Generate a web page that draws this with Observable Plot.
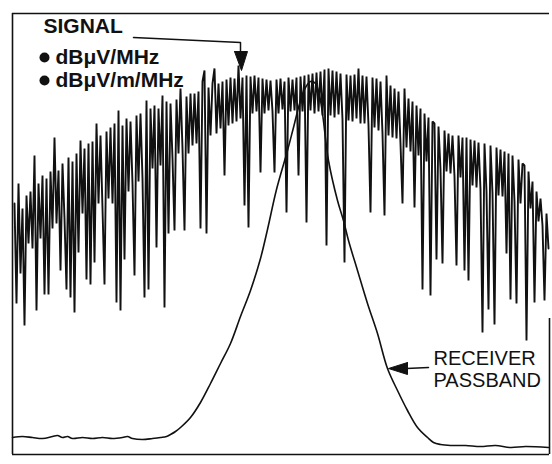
<!DOCTYPE html>
<html>
<head>
<meta charset="utf-8">
<script src="https://cdn.jsdelivr.net/npm/d3@7"></script>
<script src="https://cdn.jsdelivr.net/npm/@observablehq/plot@0.6"></script>
<style>
  html, body { margin: 0; padding: 0; background: #fff; }
  #chart svg { display: block; }
</style>
</head>
<body>
<div id="chart"></div>
<script>
// ---- Signal spectrum (noisy trace), level in arbitrary units above floor ----
const sigStart = 2;   // first frequency sample
const sigStep = 2;    // frequency spacing of samples
const sigLevel = [
  250,150,270,180,245, 128,258,210,262,205, 298,143,270,215,278, 159,275,159,282,225,
  316,230,283,183,290, 235,164,296,156,292, 141,300,201,313,240, 305,174,310,169,312,
  191,330,250,318,245, 169,322,255,326,250, 330,151,343,143,328, 194,335,262,332,270,
  178,338,272,340,275, 156,353,164,345,285, 348,206,345,288,358, 146,352,220,350,295,
  223,354,300,365,305, 223,357,300,360,308, 360,310,362,225,372, 383,220,366,318,370,
  385,320,370,325,372, 278,374,328,376,330, 375,332,388,335,376, 248,378,226,377,340,
  378,342,376,281,375, 340,374,343,373,342, 281,374,340,375,344, 372,241,376,342,374,
  343,376,278,377,342, 378,231,379,343,380, 340,381,342,382,338, 384,208,385,338,383,
  336,382,339,380,334, 191,379,333,378,332, 379,335,385,330,378, 330,377,328,241,376,
  326,375,323,372,320, 238,378,318,368,316, 365,315,362,310,250, 365,306,355,302,352,
  246,348,298,345,164, 340,292,336,158,332, 330,194,327,284,190, 323,282,320,280,318,
  277,188,318,276,316, 183,316,173,314,268, 313,266,311,264,121, 310,262,144,308,260,
  129,306,258,304,257, 302,200,300,154,298, 252,150,294,250,290, 288,113,282,245,272,
  151,262,232,255,228, 153,240,205
];
const sigFreq = sigLevel.map((_, i) => sigStart + i * sigStep);

// ---- Receiver passband ----
const pbFreq = [0,10,20,30,40,45,50,55,60,70,80,90,100,110,115,120,130,140,148,154,158,163,168,178,188,198,208,218,228,238,248,255,264,275,281,288,293,298,303,307,310,316,325,331,336,345,355,365,375,385,395,405,415,421,428,438,453,468,483,498,513,536];
const pbLevel = [16,17,16,15,17,18,16,17,15,16,15,16,15,16,17,15,14,15,16,17,19,22,26,36,51,70,90,110,137,163,195,224,264,303,326,353,366,372,370,358,340,293,253,233,213,183,150,120,85,63,43,26,16,11,9,8,8,7,8,6,7,6];

// ---- Annotation texts ----
const signalLabel = "SIGNAL";
const unitLabels = ["dB\u03BCV/MHz", "dB\u03BCV/m/MHz"];
const passbandLabels = ["RECEIVER", "PASSBAND"];

// annotation anchors (data units)
const signalLabelPos = {f: 31, v: 427};
const unitPos = [{f: 43, v: 396}, {f: 43, v: 373}];
const bulletF = 32;
const signalArrowPath = [{f: 121, v: 416}, {f: 228, v: 411}, {f: 228, v: 400}];
const signalArrowHead = [{f: 222, v: 402}, {f: 235, v: 402}, {f: 229, v: 383}, {f: 222, v: 402}];
const passbandLabelPos = [{f: 421, v: 95}, {f: 421, v: 73}];
const passbandArrowPath = [{f: 416, v: 86}, {f: 394, v: 85}];
const passbandArrowHead = [{f: 395, v: 91}, {f: 395, v: 79}, {f: 376, v: 85}, {f: 395, v: 91}];

// frame levels
const frameBottom = -1, frameTop = 440, frameLeft = 0, frameRight = 537, rightEdgeTop = 135;

const signal = sigFreq.map((f, i) => ({f, v: sigLevel[i]}));
const passband = pbFreq.map((f, i) => ({f, v: pbLevel[i]}));
const font = "'Liberation Sans', Arial, Helvetica, sans-serif";

const chart = Plot.plot({
  width: 552,
  height: 464,
  margin: 0,
  style: {background: "#fff", fontFamily: font},
  x: {domain: [0, 537], range: [12, 549], axis: null},
  y: {domain: [0, 443], range: [453, 10], axis: null},
  marks: [
    // frame
    Plot.ruleY([frameBottom], {x1: frameLeft, x2: frameRight, stroke: "#111", strokeWidth: 1.6}),
    Plot.ruleY([frameTop], {x1: frameLeft, x2: frameRight, stroke: "#111", strokeWidth: 1.6}),
    Plot.ruleX([frameLeft], {y1: frameBottom, y2: frameTop, stroke: "#111", strokeWidth: 1.6}),
    Plot.ruleX([frameRight], {y1: frameBottom, y2: rightEdgeTop, stroke: "#111", strokeWidth: 1.6}),
    // passband
    Plot.line(passband, {x: "f", y: "v", stroke: "#111", strokeWidth: 1.6, curve: "catmull-rom"}),
    // signal
    Plot.line(signal, {x: "f", y: "v", stroke: "#111", strokeWidth: 1.9, strokeLinejoin: "miter", curve: "linear"}),
    // signal label and arrow
    Plot.text([signalLabel], {x: () => signalLabelPos.f, y: () => signalLabelPos.v, text: d => d,
      textAnchor: "start", fontSize: 21, fontWeight: "bold", fill: "#111"}),
    Plot.dot(unitPos, {x: () => bulletF, y: "v", r: 5, fill: "#111", stroke: null}),
    Plot.text(unitPos, {x: "f", y: "v", text: (d, i) => unitLabels[i],
      textAnchor: "start", fontSize: 21, fontWeight: "bold", fill: "#111"}),
    Plot.line(signalArrowPath, {x: "f", y: "v", stroke: "#111", strokeWidth: 1.5}),
    Plot.line(signalArrowHead, {x: "f", y: "v", fill: "#111", stroke: "#111", strokeWidth: 1}),
    // passband label and arrow
    Plot.text(passbandLabelPos, {x: "f", y: "v", text: (d, i) => passbandLabels[i],
      textAnchor: "start", fontSize: 20, fill: "#111"}),
    Plot.line(passbandArrowPath, {x: "f", y: "v", stroke: "#111", strokeWidth: 1.5}),
    Plot.line(passbandArrowHead, {x: "f", y: "v", fill: "#111", stroke: "#111", strokeWidth: 1})
  ]
});
document.getElementById("chart").appendChild(chart);
</script>
</body>
</html>
